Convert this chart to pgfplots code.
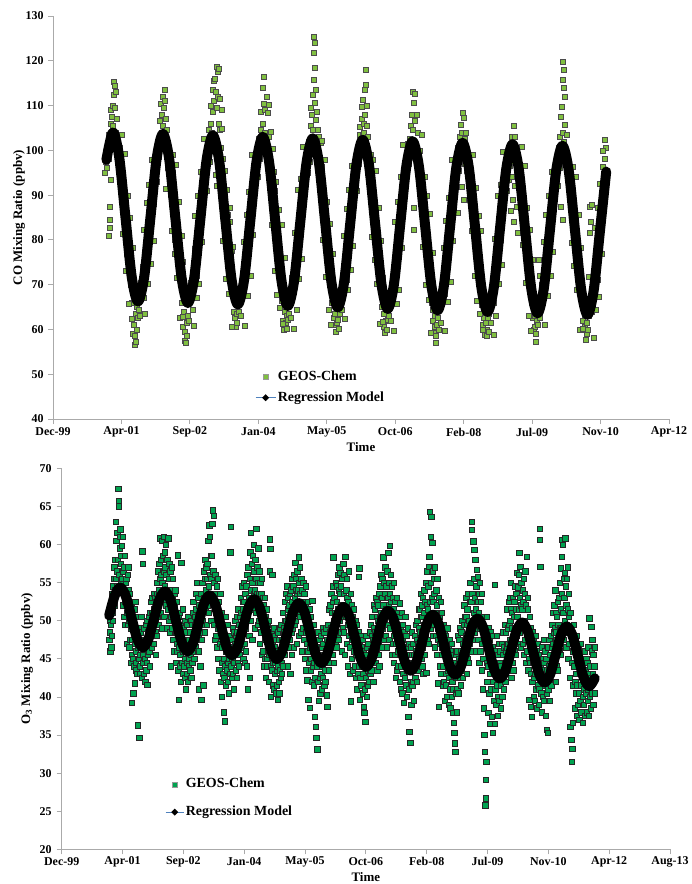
\documentclass[border=0pt]{standalone}
\usepackage{pgfplots}
\pgfplotsset{compat=1.18}
\usepackage{fontspec}
\setmainfont{Liberation Serif}
\definecolor{cofill}{RGB}{128,192,64}
\definecolor{ozfill}{RGB}{0,163,80}
\definecolor{axgray}{RGB}{170,170,170}
\definecolor{legblue}{RGB}{79,129,189}
\pgfplotsset{
  myaxis/.style={
    scale only axis,
    clip marker paths=true,
    axis x line*=bottom, axis y line*=left,
    axis line style={axgray, line width=0.8bp},
    tick style={axgray, line width=0.8bp},
    tick align=outside,
    major tick length=5bp,
    /pgf/number format/assume math mode=true,
    tick label style={font=\fontsize{12}{12}\selectfont\bfseries},
    label style={font=\fontsize{13}{13}\selectfont\bfseries},
    legend style={draw=none, fill=none, inner sep=0pt, outer sep=0pt,
      font=\fontsize{14}{14}\selectfont\bfseries,
      nodes={inner sep=1.5bp, text height=10bp, text depth=3bp}},
    legend cell align=left,
  },
  regline/.style={black, line width=10bp, smooth, line join=round, line cap=round},
}
\begin{document}
\begin{tikzpicture}
\useasboundingbox (0,0) rectangle (692bp,-884bp);
% ---------------- Top: CO ----------------
\begin{axis}[myaxis, at={(53bp,-419bp)}, anchor=south west,
  width=616bp, height=403bp,
  xmin=0, xmax=4500, ymin=40, ymax=130,
  xtick={0,500,...,4500},
  xticklabels={Dec-99,Apr-01,Sep-02,Jan-04,May-05,Oct-06,Feb-08,Jul-09,Nov-10,Apr-12},
  ytick={40,50,...,130},
  xticklabel style={anchor=center, yshift=-8bp},
  yticklabel style={anchor=east, xshift=-1bp},
  xlabel={Time}, ylabel={CO Mixing Ratio (ppbv)},
  xlabel style={at={(axis description cs:0.5,-0.0695)}, anchor=center},
  ylabel style={at={(axis description cs:-0.0552,0.5)}, anchor=center},
  legend style={at={(axis description cs:0.328,0.079)}, anchor=west, row sep=5bp},
]
\addplot[only marks, mark=square*, mark size=2.5bp,
  mark options={fill=cofill, draw=black!70, line width=0.6bp},
  legend image code/.code={\draw[mark=square*, mark size=2.6bp, mark options={fill=cofill, draw=black!40, line width=0.4bp}] plot coordinates {(10bp,0bp)};}]
coordinates {
(380,95.0)(385,97.5)(390,99.5)(395,96.0)(400,101.0)(405,98.0)(408,103.5)(411,81.0)(413,84.5)(415,82.6)(417,87.5)(419,93.4)(422,106.0)(425,109.0)(428,103.0)(432,107.5)(436,110.0)(440,105.5)(444,112.5)(447,115.2)(450,114.5)(453,109.5)(456,113.0)(460,104.0)(465,107.0)(470,101.0)(478,96.0)(488,100.5)(498,91.0)(508,88.0)(518,91.5)(528,82.0)(538,77.0)(548,81.5)(558,72.5)(568,70.0)(578,66.0)(585,59.0)(590,61.0)(596,56.5)(600,58.5)(603,63.5)(607,57.2)(610,65.0)(614,60.0)(618,62.5)(622,68.5)(626,64.5)(634,63.0)(643,70.5)(653,74.0)(663,67.0)(673,76.5)(683,80.5)(693,75.5)(703,86.0)(713,82.0)(723,90.5)(733,96.5)(738,88.0)
(748,97.0)(758,93.0)(765,102.0)(773,98.5)(779,106.5)(785,103.5)(790,110.5)(795,108.0)(800,105.5)(804,112.0)(808,109.5)(812,101.0)(816,113.5)(819,111.0)(822,107.0)(826,91.5)(830,104.5)(835,96.0)(843,99.5)(853,93.5)(863,90.0)(873,95.0)(883,86.0)(893,80.0)(903,84.0)(913,77.0)(923,73.0)(933,70.5)(940,66.0)(945,75.0)(950,60.5)(955,64.0)(960,57.5)(965,59.5)(968,66.0)(972,57.0)(976,61.5)(980,58.5)(984,63.0)(988,69.0)(993,62.0)(999,67.5)(1008,70.5)(1018,64.5)(1028,73.5)(1038,78.0)(1048,72.0)(1058,83.5)(1068,79.5)(1078,88.0)(1088,86.0)(1098,94.5)(1103,89.5)
(1113,96.0)(1123,91.0)(1130,101.0)(1138,104.5)(1144,97.5)(1150,106.0)(1156,110.0)(1160,104.0)(1164,113.5)(1168,108.5)(1172,115.5)(1176,111.0)(1180,103.5)(1184,116.0)(1188,94.5)(1191,113.0)(1194,118.6)(1197,109.5)(1200,92.0)(1203,117.5)(1206,112.0)(1210,106.0)(1214,118.2)(1218,104.5)(1222,111.5)(1228,100.5)(1234,109.0)(1238,98.0)(1248,91.0)(1258,86.0)(1268,83.0)(1278,85.5)(1288,79.0)(1295,84.0)(1298,70.0)(1305,77.5)(1308,68.5)(1318,64.0)(1326,62.5)(1333,60.6)(1340,63.5)(1346,61.5)(1350,68.0)(1356,64.0)(1364,67.5)(1373,63.0)(1383,72.0)(1393,68.5)(1403,76.5)(1413,80.0)(1423,75.0)(1433,85.5)(1443,82.0)(1453,90.5)(1463,88.0)(1468,93.5)
(1478,95.5)(1488,99.5)(1495,94.0)(1503,102.5)(1509,98.0)(1515,104.5)(1521,108.5)(1525,100.5)(1529,113.9)(1533,106.0)(1537,110.5)(1541,116.4)(1545,104.0)(1549,109.0)(1555,101.5)(1560,111.9)(1565,99.0)(1570,108.3)(1575,103.0)(1580,110.1)(1585,95.0)(1590,104.1)(1595,92.0)(1603,88.0)(1610,95.2)(1613,85.5)(1618,91.0)(1623,83.0)(1633,80.0)(1643,76.5)(1653,74.0)(1663,70.0)(1673,66.5)(1680,62.0)(1683,66.0)(1688,59.9)(1691,64.0)(1695,75.9)(1698,61.5)(1705,63.0)(1710,60.2)(1713,68.0)(1717,62.1)(1721,63.5)(1729,67.0)(1738,62.5)(1748,71.5)(1758,73.5)(1768,70.5)(1778,79.5)(1788,76.0)(1798,84.5)(1808,87.5)(1818,84.0)(1828,93.5)(1833,89.0)
(1843,93.0)(1853,99.0)(1860,95.0)(1868,102.0)(1874,97.5)(1880,105.5)(1885,109.5)(1889,101.0)(1893,108.0)(1896,112.5)(1899,104.5)(1902,115.7)(1905,121.7)(1907,125.3)(1909,124.0)(1911,118.4)(1914,110.6)(1917,106.8)(1920,113.5)(1924,102.0)(1928,108.5)(1933,98.0)(1938,104.5)(1944,103.0)(1948,94.0)(1955,101.6)(1958,91.5)(1965,96.3)(1968,88.0)(1978,86.0)(1988,81.0)(1998,79.0)(2008,77.5)(2018,72.0)(2028,70.5)(2038,66.0)(2048,68.5)(2054,62.5)(2058,63.5)(2063,61.0)(2067,59.5)(2070,65.0)(2075,61.5)(2080,62.1)(2084,67.5)(2088,60.2)(2094,63.5)(2103,67.5)(2113,64.5)(2123,71.5)(2133,75.0)(2143,71.0)(2153,80.5)(2163,84.5)(2173,82.0)(2183,89.5)(2193,87.0)(2198,93.5)
(2208,96.5)(2218,91.0)(2225,100.0)(2233,97.0)(2239,103.5)(2244,105.2)(2249,99.0)(2253,107.0)(2257,109.7)(2261,103.5)(2265,111.3)(2269,106.0)(2273,104.0)(2277,113.5)(2281,108.0)(2284,114.6)(2287,117.9)(2290,105.5)(2294,110.0)(2298,95.0)(2302,103.0)(2308,97.0)(2313,92.5)(2318,99.0)(2323,90.0)(2333,87.5)(2343,85.5)(2353,81.0)(2363,79.5)(2373,75.0)(2383,74.0)(2393,69.5)(2403,65.0)(2410,71.5)(2413,63.5)(2418,60.5)(2421,66.0)(2426,59.2)(2430,62.0)(2435,64.5)(2440,60.0)(2443,62.1)(2448,67.0)(2451,63.0)(2459,66.5)(2468,62.0)(2478,70.0)(2488,73.5)(2498,69.0)(2508,78.0)(2518,76.0)(2528,83.5)(2538,87.0)(2548,83.5)(2558,92.5)(2563,89.0)
(2573,93.5)(2583,97.5)(2590,101.5)(2598,97.0)(2604,102.5)(2610,99.0)(2615,105.5)(2619,102.0)(2623,108.0)(2627,113.1)(2631,104.5)(2634,87.1)(2636,110.6)(2639,82.2)(2642,106.5)(2646,112.7)(2650,101.0)(2655,108.0)(2660,99.4)(2665,104.0)(2670,93.5)(2678,100.0)(2688,90.0)(2698,87.5)(2708,89.0)(2718,81.0)(2728,79.5)(2738,75.5)(2748,73.0)(2758,72.5)(2768,66.0)(2775,62.0)(2778,64.5)(2783,59.2)(2786,63.0)(2790,60.5)(2794,57.0)(2797,65.5)(2800,58.5)(2804,61.0)(2808,66.0)(2812,62.5)(2816,60.0)(2824,65.5)(2833,61.5)(2843,69.0)(2853,72.0)(2863,68.0)(2873,77.0)(2883,80.5)(2893,78.0)(2903,86.5)(2913,84.0)(2923,91.5)(2928,89.0)
(2938,93.0)(2948,98.0)(2955,86.0)(2960,100.5)(2966,95.5)(2972,103.0)(2977,98.5)(2982,105.7)(2986,91.8)(2989,103.9)(2992,108.3)(2995,100.0)(2998,88.9)(3001,107.2)(3005,102.5)(3010,97.0)(3016,104.0)(3022,95.5)(3030,99.0)(3038,93.5)(3045,89.0)(3053,91.5)(3063,86.5)(3073,84.5)(3083,80.0)(3093,77.0)(3103,78.5)(3113,71.0)(3123,69.5)(3133,65.5)(3140,61.0)(3143,66.5)(3148,62.5)(3151,64.0)(3155,58.8)(3160,61.5)(3163,66.5)(3167,60.0)(3170,58.5)(3174,62.5)(3178,67.0)(3182,59.5)(3186,63.5)(3192,66.0)(3198,61.5)(3208,69.0)(3218,66.0)(3228,73.5)(3238,76.5)(3248,74.0)(3258,82.5)(3268,80.0)(3278,88.5)(3288,91.5)(3293,88.0)
(3303,94.5)(3313,91.0)(3320,98.0)(3328,93.5)(3334,101.0)(3340,96.5)(3345,86.5)(3349,103.0)(3352,94.0)(3356,100.5)(3360,89.0)(3363,105.4)(3366,97.5)(3369,84.0)(3372,103.0)(3376,92.0)(3380,99.0)(3385,87.5)(3390,95.5)(3395,81.6)(3400,93.0)(3408,96.5)(3418,89.5)(3428,86.0)(3438,88.5)(3448,80.5)(3458,78.0)(3468,75.0)(3478,72.5)(3488,70.0)(3498,66.0)(3505,62.5)(3508,67.0)(3513,59.9)(3516,63.0)(3520,60.5)(3524,57.3)(3527,65.5)(3530,59.0)(3534,62.0)(3538,66.5)(3542,61.0)(3546,75.5)(3549,64.0)(3554,72.0)(3558,62.5)(3563,67.0)(3568,70.0)(3578,66.0)(3588,73.0)(3598,72.5)(3608,77.5)(3618,80.0)(3628,78.0)(3638,86.5)(3648,89.0)(3658,92.5)
(3668,93.5)(3678,97.0)(3685,92.0)(3693,100.5)(3699,96.0)(3705,103.0)(3710,87.4)(3713,107.5)(3716,99.0)(3719,109.7)(3721,84.5)(3723,115.7)(3725,104.0)(3727,119.7)(3729,117.9)(3732,113.9)(3735,102.0)(3738,111.9)(3742,105.7)(3746,98.0)(3750,103.5)(3756,96.5)(3763,97.9)(3770,91.5)(3775,95.0)(3783,89.0)(3793,86.5)(3803,83.0)(3813,80.0)(3823,77.5)(3833,78.5)(3843,71.5)(3853,68.5)(3863,66.0)(3870,62.0)(3873,65.5)(3878,59.9)(3882,63.0)(3886,60.5)(3890,57.7)(3894,64.5)(3898,59.0)(3902,61.5)(3906,65.5)(3910,60.0)(3914,71.7)(3917,63.0)(3921,81.6)(3925,87.4)(3928,84.0)(3931,66.5)(3935,87.8)(3938,64.0)(3946,68.5)(3955,72.0)(3963,69.5)(3972,77.8)(3980,71.0)(3988,80.5)(3996,85.5)(4004,84.0)(4012,90.0)(4020,96.3)(4026,93.0)(4030,98.0)(4034,102.3)(4038,100.5)(4040,95.5)
(503,103.4)(513,81.4)(523,99.2)(533,73.0)(543,89.8)(553,65.7)(563,84.9)(573,62.3)(583,78.2)(663,82.2)(673,63.6)(683,88.3)(693,70.2)(703,92.4)(713,74.6)(723,97.8)(733,79.9)
(868,82.1)(878,99.1)(888,76.9)(898,96.7)(908,71.5)(918,88.4)(928,62.6)(938,81.0)(948,62.9)(1028,60.9)(1038,85.3)(1048,67.0)(1058,89.9)(1068,70.1)(1078,95.3)(1088,79.5)(1098,102.6)
(1233,104.7)(1243,79.7)(1253,95.5)(1263,71.3)(1273,91.1)(1283,68.0)(1293,87.2)(1303,60.6)(1313,78.5)(1393,79.5)(1403,60.9)(1413,85.6)(1423,67.5)(1433,90.7)(1443,71.9)(1453,99.1)(1463,81.2)
(1598,83.4)(1608,100.4)(1618,73.2)(1628,93.0)(1638,67.8)(1648,86.7)(1658,64.9)(1668,83.3)(1678,61.2)(1758,60.2)(1768,81.6)(1778,64.3)(1788,91.2)(1798,71.4)(1808,93.6)(1818,75.8)(1828,100.9)
(1963,102.1)(1973,80.1)(1983,97.9)(1993,71.7)(2003,88.5)(2013,64.4)(2023,83.6)(2033,61.0)(2043,76.9)(2123,80.9)(2133,62.3)(2143,87.0)(2153,68.9)(2163,91.1)(2173,73.3)(2183,96.5)(2193,78.6)
(2328,80.8)(2338,97.8)(2348,75.6)(2358,95.4)(2368,70.2)(2378,87.1)(2388,61.3)(2398,79.7)(2408,61.6)(2488,59.6)(2498,84.0)(2508,65.7)(2518,88.6)(2528,68.8)(2538,94.0)(2548,78.2)(2558,101.3)
(2693,103.4)(2703,78.4)(2713,94.2)(2723,70.0)(2733,89.8)(2743,66.7)(2753,85.9)(2763,59.3)(2773,77.2)(2853,78.2)(2863,59.6)(2873,84.3)(2883,66.2)(2893,89.4)(2903,70.6)(2913,97.8)(2923,79.9)
(3058,82.1)(3068,99.1)(3078,71.9)(3088,91.7)(3098,66.5)(3108,85.4)(3118,63.6)(3128,82.0)(3138,59.9)(3218,58.9)(3228,80.3)(3238,63.0)(3248,89.9)(3258,70.1)(3268,92.3)(3278,74.5)(3288,99.6)
(3423,100.8)(3433,78.8)(3443,96.6)(3453,70.4)(3463,87.2)(3473,63.1)(3483,82.3)(3493,59.7)(3503,75.6)(3583,79.6)(3593,61.0)(3603,85.7)(3613,67.6)(3623,89.8)(3633,72.0)(3643,95.2)(3653,77.3)
(3788,79.4)(3798,96.4)(3808,74.2)(3818,94.0)(3828,68.8)(3838,85.7)(3848,59.9)(3858,78.3)(3868,60.2)(3948,58.2)(3958,82.6)(3968,64.3)(3978,87.2)(3988,67.4)(3998,92.6)(4008,76.8)(4018,99.9)
};
\addlegendentry{GEOS-Chem}
\addplot[regline,
  legend image code/.code={\path[draw=legblue, line width=1.2bp, line cap=butt] (0bp,0bp) -- (20bp,0bp); \path[fill=black, draw=none] (10bp,3.5bp) -- (13.5bp,0bp) -- (10bp,-3.5bp) -- (6.5bp,0bp) -- cycle;}]
coordinates {
(390,97.9)(438.0,104.00)(483.6,98.45)(529.2,85.12)(574.8,71.79)(620.4,66.24)(666.1,71.71)(711.7,84.95)(757.3,98.20)(802.9,103.67)(848.5,98.12)(894.1,84.79)(939.7,71.46)(985.3,65.91)(1030.9,71.37)(1076.5,84.62)(1122.2,97.87)(1167.8,103.34)(1213.4,97.79)(1259.0,84.46)(1304.6,71.13)(1350.2,65.58)(1395.8,71.04)(1441.4,84.29)(1487.0,97.54)(1532.6,103.01)(1578.3,97.46)(1623.9,84.13)(1669.5,70.80)(1715.1,65.25)(1760.7,70.72)(1806.3,83.96)(1851.9,97.21)(1897.5,102.68)(1943.1,97.13)(1988.7,83.80)(2034.4,70.47)(2080.0,64.92)(2125.6,70.39)(2171.2,83.63)(2216.8,96.88)(2262.4,102.35)(2308.0,96.80)(2353.6,83.47)(2399.2,70.14)(2444.8,64.59)(2490.5,70.06)(2536.1,83.30)(2581.7,96.55)(2627.3,102.02)(2672.9,96.47)(2718.5,83.14)(2764.1,69.81)(2809.7,64.26)(2855.3,69.73)(2900.9,82.98)(2946.6,96.22)(2992.2,101.69)(3037.8,96.14)(3083.4,82.81)(3129.0,69.48)(3174.6,63.93)(3220.2,69.40)(3265.8,82.65)(3311.4,95.89)(3357.0,101.36)(3402.7,95.81)(3448.3,82.48)(3493.9,69.15)(3539.5,63.60)(3585.1,69.07)(3630.7,82.32)(3676.3,95.56)(3721.9,101.03)(3767.5,95.48)(3813.1,82.15)(3858.8,68.82)(3904.4,63.27)(3950.0,68.74)(3995.6,81.99)(4041.2,95.24)
};
\addlegendentry{Regression Model}
\end{axis}
% ---------------- Bottom: O3 ----------------
\begin{axis}[myaxis, at={(61.7bp,-849.3bp)}, anchor=south west,
  width=608.3bp, height=381bp,
  xmin=0, xmax=5000, ymin=20, ymax=70,
  xtick={0,500,...,5000},
  xticklabels={Dec-99,Apr-01,Sep-02,Jan-04,May-05,Oct-06,Feb-08,Jul-09,Nov-10,Apr-12,Aug-13},
  ytick={20,25,...,70},
  xticklabel style={anchor=center, yshift=-7.4bp},
  yticklabel style={anchor=east, xshift=-1.7bp},
  xlabel={Time}, ylabel={O\textsubscript{3} Mixing Ratio (ppbv)},
  xlabel style={at={(axis description cs:0.5,-0.0727)}, anchor=center},
  ylabel style={at={(axis description cs:-0.057,0.5)}, anchor=center},
  legend style={at={(axis description cs:0.170,0.134)}, anchor=west, row sep=11.7bp},
]
\addplot[only marks, mark=square*, mark size=2.7bp,
  mark options={fill=ozfill, draw=black!85, line width=0.6bp},
  legend image code/.code={\draw[mark=square*, mark size=2.6bp, mark options={fill=ozfill, draw=black!40, line width=0.4bp}] plot coordinates {(9bp,0bp)};}]
coordinates {
(392,47.5)(395,48.5)(398,46.0)(401,50.0)(404,49.5)(407,46.5)(410,48.0)(413,52.5)(416,53.5)(419,50.0)(422,51.0)(425,54.5)(428,55.5)(431,57.0)(434,54.0)(437,52.0)(440,58.0)(443,55.5)(446,63.0)(449,60.5)(452,56.5)(455,54.5)(458,61.5)(461,58.0)(464,67.3)(467,65.7)(470,65.0)(473,56.0)(476,59.5)(479,61.0)(482,62.0)(485,55.0)(488,57.5)(491,58.5)(494,59.8)(497,55.5)(500,52.0)(503,61.0)(506,56.5)(509,53.5)(512,50.5)(515,57.0)(518,58.5)(521,52.5)(524,49.5)(527,55.0)(530,55.5)(533,51.0)(536,47.0)(539,53.5)(542,56.0)(545,49.5)(548,57.0)(551,54.0)(554,46.5)(557,50.0)(560,53.5)(563,47.5)(566,44.5)(569,49.0)(572,52.0)(575,45.5)(578,39.2)(581,47.5)(584,45.0)(587,50.5)(590,40.5)(593,44.0)(596,51.5)(599,47.0)(602,41.8)(605,52.5)(608,46.0)(611,44.5)(614,43.5)(617,48.0)(620,50.5)(623,43.0)(626,36.3)(629,46.5)(632,45.0)(635,49.0)(638,34.6)(641,45.5)(644,44.0)(647,43.0)(650,48.5)(653,50.5)(656,42.5)(659,47.5)(662,59.1)(665,57.5)(668,45.5)(671,44.5)(674,43.0)(677,49.0)(680,47.5)(683,45.0)(686,42.0)(689,47.5)(692,49.5)(695,43.5)(698,44.5)(701,50.0)(704,41.6)(707,45.5)(710,46.0)(713,48.5)(716,50.5)(719,46.0)(722,44.0)(725,51.0)(728,47.0)(731,49.0)(734,52.5)(737,47.0)(740,46.5)(743,53.0)(746,51.0)(749,49.5)(752,48.0)(755,51.5)(758,53.5)
(759,47.0)(762,51.5)(765,53.0)(768,48.5)(771,45.5)(774,50.0)(777,52.5)(780,55.0)(783,48.0)(786,53.5)(789,56.5)(792,50.5)(795,49.5)(798,54.0)(801,57.5)(804,53.0)(807,60.8)(810,55.5)(813,51.0)(816,58.0)(819,56.0)(822,60.5)(825,49.0)(828,55.0)(831,58.5)(834,52.5)(837,61.0)(840,56.5)(843,50.5)(846,54.5)(849,59.0)(852,57.0)(855,52.0)(858,60.0)(861,56.0)(864,49.0)(867,58.0)(870,54.0)(873,51.5)(876,60.8)(879,55.5)(882,50.0)(885,57.5)(888,48.5)(891,53.0)(894,56.5)(897,44.0)(900,50.5)(903,57.0)(906,54.0)(909,49.0)(912,53.0)(915,55.5)(918,47.5)(921,50.5)(924,53.5)(927,46.0)(930,52.0)(933,54.0)(936,48.5)(939,44.5)(942,51.0)(945,52.5)(948,46.0)(951,47.0)(954,58.6)(957,43.5)(960,50.5)(963,39.6)(966,46.5)(969,51.0)(972,44.0)(975,45.5)(978,49.5)(981,42.0)(984,57.6)(987,48.5)(990,44.5)(993,51.5)(996,46.0)(999,43.0)(1002,49.0)(1005,47.5)(1008,44.0)(1011,50.0)(1014,42.5)(1017,45.0)(1020,41.0)(1023,48.5)(1026,44.5)(1029,43.0)(1032,49.5)(1035,46.5)(1038,42.0)(1041,50.5)(1044,45.0)(1047,44.0)(1050,47.5)(1053,48.5)(1056,43.5)(1059,45.5)(1062,50.0)(1065,42.5)(1068,47.0)(1071,49.5)(1074,44.5)(1077,46.0)(1080,51.0)(1083,52.5)(1086,48.0)(1089,45.0)(1092,49.5)(1095,50.5)(1098,46.5)(1101,47.5)(1104,53.5)(1107,51.5)(1110,49.0)(1113,55.0)(1116,47.5)(1119,50.5)(1122,53.0)(1125,48.0)
(1126,46.0)(1129,41.0)(1132,52.0)(1135,48.5)(1138,44.0)(1141,50.5)(1144,53.5)(1147,39.6)(1150,47.5)(1153,52.0)(1156,55.0)(1159,49.5)(1162,50.0)(1165,41.5)(1168,56.5)(1171,53.0)(1174,48.5)(1177,55.5)(1180,58.0)(1183,51.5)(1186,54.0)(1189,57.0)(1192,49.5)(1195,55.5)(1198,57.5)(1201,52.0)(1204,60.5)(1207,54.5)(1210,51.0)(1213,62.5)(1216,56.0)(1219,61.0)(1222,53.0)(1225,58.5)(1228,55.5)(1231,50.0)(1234,58.5)(1237,62.7)(1240,64.5)(1243,52.5)(1246,56.5)(1249,63.8)(1252,49.5)(1255,55.0)(1258,53.5)(1261,47.5)(1264,56.0)(1267,51.0)(1270,48.0)(1273,54.5)(1276,52.0)(1279,46.5)(1282,55.5)(1285,49.0)(1288,45.0)(1291,52.5)(1294,50.0)(1297,43.5)(1300,47.0)(1303,53.5)(1306,42.0)(1309,48.5)(1312,51.0)(1315,44.5)(1318,40.0)(1321,46.5)(1324,49.5)(1327,43.0)(1330,45.0)(1333,38.0)(1336,42.5)(1339,36.8)(1342,48.0)(1345,44.0)(1348,41.5)(1351,50.5)(1354,46.0)(1357,43.5)(1360,49.5)(1363,42.0)(1366,44.5)(1369,47.5)(1372,40.5)(1375,45.0)(1378,48.0)(1381,43.0)(1384,45.5)(1387,59.0)(1390,62.3)(1393,44.0)(1396,47.5)(1399,42.5)(1402,45.0)(1405,49.0)(1408,43.0)(1411,46.5)(1414,48.5)(1417,41.0)(1420,44.5)(1423,47.0)(1426,50.0)(1429,43.5)(1432,45.5)(1435,48.0)(1438,42.5)(1441,50.5)(1444,48.5)(1447,44.5)(1450,51.5)(1453,46.0)(1456,44.0)(1459,49.5)(1462,50.5)(1465,45.5)(1468,47.5)(1471,53.0)(1474,51.0)(1477,46.5)(1480,54.5)(1483,49.0)(1486,47.0)(1489,52.5)(1492,51.5)(1495,55.0)
(1493,45.0)(1496,50.5)(1499,52.5)(1502,47.0)(1505,44.5)(1508,53.5)(1511,49.0)(1514,46.0)(1517,54.5)(1520,51.0)(1523,44.0)(1526,56.0)(1529,50.5)(1532,41.0)(1535,57.0)(1538,53.0)(1541,48.0)(1544,42.5)(1547,55.5)(1550,59.0)(1553,61.5)(1556,50.0)(1559,54.0)(1562,57.5)(1565,47.5)(1568,55.0)(1571,58.5)(1574,51.5)(1577,53.5)(1580,60.0)(1583,56.5)(1586,49.0)(1589,54.0)(1592,58.0)(1595,51.0)(1598,55.5)(1601,62.1)(1604,53.5)(1607,57.0)(1610,49.5)(1613,55.0)(1616,59.5)(1619,50.0)(1622,53.5)(1625,56.5)(1628,47.0)(1631,52.0)(1634,55.0)(1637,48.5)(1640,53.5)(1643,55.5)(1646,45.5)(1649,50.5)(1652,53.0)(1655,46.0)(1658,52.0)(1661,49.5)(1664,44.0)(1667,53.0)(1670,47.5)(1673,45.0)(1676,50.5)(1679,42.5)(1682,48.0)(1685,51.5)(1688,45.0)(1691,44.0)(1694,49.5)(1697,47.0)(1700,42.0)(1703,50.0)(1706,45.5)(1709,60.7)(1712,56.5)(1715,59.4)(1718,44.0)(1721,40.0)(1724,48.5)(1727,43.5)(1730,56.0)(1733,47.0)(1736,41.5)(1739,44.5)(1742,49.0)(1745,41.0)(1748,46.5)(1751,48.0)(1754,43.0)(1757,44.5)(1760,40.5)(1763,47.5)(1766,43.5)(1769,41.5)(1772,46.0)(1775,39.6)(1778,48.5)(1781,44.0)(1784,42.0)(1787,47.5)(1790,40.5)(1793,43.5)(1796,49.0)(1799,46.0)(1802,42.5)(1805,49.5)(1808,44.5)(1811,43.0)(1814,47.5)(1817,51.0)(1820,45.5)(1823,44.0)(1826,49.0)(1829,48.5)(1832,52.5)(1835,45.5)(1838,50.0)(1841,53.5)(1844,47.0)(1847,50.0)(1850,54.5)(1853,46.5)(1856,51.5)(1859,53.0)(1862,48.0)
(1860,44.0)(1863,50.5)(1866,52.0)(1869,46.5)(1872,47.5)(1875,53.5)(1878,43.0)(1881,51.0)(1884,54.0)(1887,48.5)(1890,45.5)(1893,52.5)(1896,55.5)(1899,49.0)(1902,51.0)(1905,54.5)(1908,46.5)(1911,56.0)(1914,53.0)(1917,49.5)(1920,57.6)(1923,54.0)(1926,50.0)(1929,55.5)(1932,47.0)(1935,53.5)(1938,56.5)(1941,51.0)(1944,54.0)(1947,48.0)(1950,58.3)(1953,55.0)(1956,50.5)(1959,57.0)(1962,53.5)(1965,48.5)(1968,55.5)(1971,51.5)(1974,46.0)(1977,54.0)(1980,52.5)(1983,49.0)(1986,55.0)(1989,47.5)(1992,50.5)(1995,53.5)(1998,45.0)(2001,52.0)(2004,48.5)(2007,54.5)(2010,43.5)(2013,51.0)(2016,47.0)(2019,42.2)(2022,52.5)(2025,46.0)(2028,39.6)(2031,49.5)(2034,44.5)(2037,51.5)(2040,38.6)(2043,46.5)(2046,50.5)(2049,43.5)(2052,45.0)(2055,48.5)(2058,42.0)(2061,52.6)(2064,46.5)(2067,44.0)(2070,49.5)(2073,41.5)(2076,44.5)(2079,47.0)(2082,37.4)(2085,42.5)(2088,47.5)(2091,36.1)(2094,34.6)(2097,44.0)(2100,33.1)(2103,46.5)(2106,42.0)(2109,48.5)(2112,44.5)(2115,39.5)(2118,47.5)(2121,42.5)(2124,40.5)(2127,45.5)(2130,48.0)(2133,43.0)(2136,41.0)(2139,46.5)(2142,44.0)(2145,49.0)(2148,42.5)(2151,47.0)(2154,45.5)(2157,41.5)(2160,48.5)(2163,43.5)(2166,42.0)(2169,46.0)(2172,49.0)(2175,44.5)(2178,40.2)(2181,47.5)(2184,38.7)(2187,45.0)(2190,49.5)(2193,43.5)(2196,46.0)(2199,51.5)(2202,44.5)(2205,48.5)(2208,52.0)(2211,46.5)(2214,49.0)(2217,53.5)(2220,45.5)(2223,51.0)(2226,54.5)(2229,48.0)
(2227,52.5)(2230,45.5)(2233,58.3)(2236,50.0)(2239,44.5)(2242,53.0)(2245,51.0)(2248,47.0)(2251,55.0)(2254,49.5)(2257,46.5)(2260,54.5)(2263,52.5)(2266,48.0)(2269,56.0)(2272,51.5)(2275,47.5)(2278,54.0)(2281,57.0)(2284,50.0)(2287,53.5)(2290,56.3)(2293,48.5)(2296,54.5)(2299,52.0)(2302,46.0)(2305,55.5)(2308,50.5)(2311,49.0)(2314,57.5)(2317,53.5)(2320,48.5)(2323,56.0)(2326,52.0)(2329,45.5)(2332,58.4)(2335,50.5)(2338,54.0)(2341,47.0)(2344,55.5)(2347,53.0)(2350,49.5)(2353,44.0)(2356,52.5)(2359,56.5)(2362,48.0)(2365,50.5)(2368,43.0)(2371,46.5)(2374,53.5)(2377,39.4)(2380,48.5)(2383,52.0)(2386,45.0)(2389,47.5)(2392,50.5)(2395,43.5)(2398,49.0)(2401,51.5)(2404,46.0)(2407,44.0)(2410,49.5)(2413,50.0)(2416,42.5)(2419,45.5)(2422,48.0)(2425,41.0)(2428,49.5)(2431,46.5)(2434,43.0)(2437,48.5)(2440,55.8)(2443,44.0)(2446,56.9)(2449,39.6)(2452,47.0)(2455,42.5)(2458,45.0)(2461,48.0)(2464,41.5)(2467,44.0)(2470,46.5)(2473,40.5)(2476,47.5)(2479,43.0)(2482,38.7)(2485,46.0)(2488,37.9)(2491,41.0)(2494,36.7)(2497,45.5)(2500,42.5)(2503,48.0)(2506,44.0)(2509,40.0)(2512,46.5)(2515,43.5)(2518,41.5)(2521,47.0)(2524,44.5)(2527,42.0)(2530,48.5)(2533,45.0)(2536,43.0)(2539,49.5)(2542,46.0)(2545,43.5)(2548,48.0)(2551,50.5)(2554,45.0)(2557,47.5)(2560,42.0)(2563,49.0)(2566,52.0)(2569,45.5)(2572,48.5)(2575,51.5)(2578,44.5)(2581,48.0)(2584,53.0)(2587,46.0)(2590,50.5)(2593,52.5)(2596,45.5)
(2594,43.5)(2597,50.0)(2600,52.0)(2603,45.5)(2606,47.0)(2609,53.5)(2612,44.0)(2615,50.5)(2618,54.5)(2621,47.5)(2624,51.0)(2627,56.0)(2630,46.5)(2633,53.0)(2636,55.5)(2639,49.0)(2642,58.3)(2645,52.0)(2648,47.5)(2651,55.0)(2654,53.5)(2657,50.0)(2660,57.0)(2663,48.0)(2666,51.5)(2669,54.5)(2672,46.5)(2675,56.5)(2678,53.0)(2681,49.5)(2684,58.9)(2687,52.0)(2690,55.0)(2693,47.5)(2696,59.8)(2699,53.5)(2702,49.0)(2705,56.0)(2708,52.5)(2711,45.5)(2714,54.5)(2717,50.0)(2720,47.0)(2723,53.0)(2726,51.5)(2729,44.5)(2732,55.0)(2735,48.0)(2738,45.5)(2741,52.5)(2744,50.0)(2747,42.5)(2750,47.0)(2753,53.0)(2756,43.5)(2759,49.5)(2762,51.0)(2765,46.0)(2768,44.0)(2771,49.0)(2774,50.5)(2777,42.0)(2780,52.3)(2783,45.5)(2786,49.2)(2789,41.0)(2792,44.0)(2795,51.0)(2798,40.5)(2801,47.5)(2804,49.5)(2807,43.0)(2810,39.2)(2813,46.0)(2816,48.5)(2819,42.5)(2822,44.0)(2825,50.5)(2828,41.5)(2831,46.5)(2834,48.0)(2837,40.0)(2840,43.5)(2843,49.0)(2846,45.5)(2849,37.4)(2852,41.0)(2855,47.0)(2858,35.4)(2861,44.0)(2864,34.0)(2867,46.5)(2870,42.0)(2873,39.0)(2876,45.5)(2879,48.5)(2882,41.5)(2885,44.5)(2888,47.0)(2891,42.0)(2894,39.5)(2897,45.5)(2900,48.0)(2903,43.5)(2906,42.5)(2909,46.0)(2912,49.5)(2915,44.0)(2918,42.0)(2921,47.5)(2924,50.0)(2927,45.5)(2930,47.0)(2933,51.5)(2936,43.5)(2939,49.0)(2942,51.5)(2945,46.5)(2948,48.5)(2951,53.5)(2954,50.5)(2957,45.0)(2960,52.0)(2963,48.5)
(2961,50.5)(2964,44.0)(2967,53.0)(2970,46.5)(2973,43.0)(2976,51.0)(2979,49.5)(2982,54.0)(2985,45.5)(2988,52.5)(2991,55.0)(2994,48.0)(2997,43.2)(3000,52.0)(3003,56.5)(3006,47.5)(3009,51.5)(3012,54.5)(3015,47.0)(3018,57.1)(3021,58.4)(3024,52.5)(3027,64.3)(3030,49.0)(3033,61.0)(3036,55.0)(3039,63.6)(3042,53.0)(3045,60.2)(3048,48.0)(3051,56.5)(3054,52.5)(3057,49.5)(3060,55.5)(3063,53.5)(3066,46.5)(3069,57.0)(3072,51.0)(3075,48.0)(3078,54.0)(3081,45.5)(3084,52.0)(3087,55.5)(3090,49.0)(3093,41.8)(3096,47.5)(3099,38.7)(3102,53.0)(3105,50.5)(3108,44.0)(3111,47.0)(3114,52.5)(3117,43.0)(3120,49.5)(3123,51.0)(3126,45.5)(3129,46.5)(3132,41.5)(3135,49.5)(3138,44.0)(3141,42.0)(3144,48.5)(3147,45.5)(3150,39.5)(3153,48.0)(3156,43.0)(3159,41.5)(3162,46.5)(3165,44.5)(3168,49.0)(3171,40.0)(3174,43.5)(3177,46.5)(3180,39.0)(3183,42.5)(3186,47.5)(3189,45.0)(3192,41.0)(3195,38.5)(3198,46.0)(3201,43.5)(3204,40.0)(3207,47.0)(3210,42.0)(3213,37.9)(3216,45.5)(3219,41.0)(3222,36.6)(3225,44.5)(3228,35.3)(3231,33.9)(3234,32.8)(3237,40.5)(3240,45.5)(3243,42.5)(3246,38.0)(3249,46.0)(3252,41.0)(3255,44.0)(3258,48.0)(3261,40.5)(3264,45.0)(3267,47.5)(3270,42.5)(3273,44.0)(3276,49.0)(3279,41.5)(3282,46.0)(3285,48.5)(3288,43.5)(3291,45.5)(3294,50.0)(3297,42.5)(3300,47.0)(3303,49.5)(3306,44.5)(3309,52.0)(3312,47.5)(3315,45.0)(3318,50.5)(3321,48.0)(3324,53.0)(3327,50.5)(3330,45.5)
(3328,43.0)(3331,49.5)(3334,51.5)(3337,45.0)(3340,47.5)(3343,53.5)(3346,44.5)(3349,50.0)(3352,52.5)(3355,47.0)(3358,55.0)(3361,49.5)(3364,46.0)(3367,52.5)(3370,63.0)(3373,61.9)(3376,53.5)(3379,47.5)(3382,60.4)(3385,51.0)(3388,55.5)(3391,59.3)(3394,48.5)(3397,53.0)(3400,58.0)(3403,51.5)(3406,46.0)(3409,54.5)(3412,56.7)(3415,49.0)(3418,52.5)(3421,55.8)(3424,47.5)(3427,53.5)(3430,51.0)(3433,44.5)(3436,55.0)(3439,49.0)(3442,46.0)(3445,52.5)(3448,50.0)(3451,43.5)(3454,53.5)(3457,47.0)(3460,41.0)(3463,50.5)(3466,45.0)(3469,38.5)(3472,35.0)(3475,48.0)(3478,32.8)(3481,25.8)(3484,26.7)(3487,29.1)(3490,31.5)(3493,44.5)(3496,50.5)(3499,42.0)(3502,46.5)(3505,37.9)(3508,44.0)(3511,49.0)(3514,40.5)(3517,47.5)(3520,36.5)(3523,43.0)(3526,48.5)(3529,41.0)(3532,44.5)(3535,37.4)(3538,46.5)(3541,35.3)(3544,42.0)(3547,48.0)(3550,39.5)(3553,45.5)(3556,43.0)(3559,36.5)(3562,54.7)(3565,41.0)(3568,46.0)(3571,39.0)(3574,44.5)(3577,48.0)(3580,41.5)(3583,37.5)(3586,45.5)(3589,40.0)(3592,43.0)(3595,47.0)(3598,39.5)(3601,44.5)(3604,46.0)(3607,41.5)(3610,38.5)(3613,44.0)(3616,47.0)(3619,42.5)(3622,40.0)(3625,45.5)(3628,48.5)(3631,43.0)(3634,41.0)(3637,46.5)(3640,44.5)(3643,49.5)(3646,42.0)(3649,46.0)(3652,48.5)(3655,44.0)(3658,51.5)(3661,46.5)(3664,43.5)(3667,49.0)(3670,47.0)(3673,52.5)(3676,44.5)(3679,49.5)(3682,53.0)(3685,47.5)(3688,50.0)(3691,55.0)(3694,45.5)(3697,51.5)
(3695,42.5)(3698,49.0)(3701,51.0)(3704,44.5)(3707,47.5)(3710,53.0)(3713,43.5)(3716,50.5)(3719,52.5)(3722,46.0)(3725,49.0)(3728,54.5)(3731,45.5)(3734,51.5)(3737,53.5)(3740,48.0)(3743,56.3)(3746,50.5)(3749,47.0)(3752,54.4)(3755,51.5)(3758,56.0)(3761,58.9)(3764,48.5)(3767,53.0)(3770,57.1)(3773,46.5)(3776,52.0)(3779,55.0)(3782,49.5)(3785,51.5)(3788,54.0)(3791,47.0)(3794,52.5)(3797,55.5)(3800,45.5)(3803,50.0)(3806,53.5)(3809,47.5)(3812,56.5)(3815,52.0)(3818,44.5)(3821,58.4)(3824,49.0)(3827,46.0)(3830,51.5)(3833,53.0)(3836,43.5)(3839,48.5)(3842,45.0)(3845,39.6)(3848,50.5)(3851,44.5)(3854,38.7)(3857,49.0)(3860,43.0)(3863,37.4)(3866,46.5)(3869,42.0)(3872,48.5)(3875,44.5)(3878,40.0)(3881,47.5)(3884,42.5)(3887,39.5)(3890,45.0)(3893,43.0)(3896,48.0)(3899,41.0)(3902,46.0)(3905,38.5)(3908,44.0)(3911,47.0)(3914,41.5)(3917,43.5)(3920,39.0)(3923,45.5)(3926,41.0)(3929,62.1)(3932,60.6)(3935,57.1)(3938,44.0)(3941,40.5)(3944,46.5)(3947,38.0)(3950,43.5)(3953,45.0)(3956,40.0)(3959,42.5)(3962,47.5)(3965,39.5)(3968,44.5)(3971,41.5)(3974,46.0)(3977,37.5)(3980,43.0)(3983,45.0)(3986,40.5)(3989,35.7)(3992,43.5)(3995,35.3)(3998,46.5)(4001,41.0)(4004,44.0)(4007,47.5)(4010,42.0)(4013,39.5)(4016,45.5)(4019,48.0)(4022,43.0)(4025,41.5)(4028,46.5)(4031,49.5)(4034,44.5)(4037,47.0)(4040,51.0)(4043,43.5)(4046,48.5)(4049,52.0)(4052,46.0)(4055,49.0)(4058,54.0)(4061,47.5)(4064,51.0)
(4062,42.0)(4065,48.5)(4068,50.5)(4071,44.0)(4074,47.0)(4077,52.5)(4080,43.5)(4083,49.5)(4086,53.0)(4089,46.0)(4092,49.0)(4095,55.0)(4098,45.5)(4101,51.5)(4104,56.9)(4107,49.0)(4110,53.5)(4113,58.4)(4116,60.6)(4119,60.0)(4122,51.0)(4125,55.5)(4128,47.5)(4131,53.0)(4134,56.3)(4137,50.0)(4140,60.8)(4143,54.5)(4146,46.5)(4149,52.0)(4152,55.5)(4155,48.5)(4158,51.5)(4161,57.0)(4164,45.0)(4167,50.5)(4170,53.5)(4173,47.0)(4176,42.5)(4179,51.0)(4182,36.1)(4185,48.0)(4188,34.4)(4191,44.5)(4194,31.5)(4197,33.2)(4200,36.6)(4203,46.0)(4206,41.5)(4209,49.5)(4212,44.0)(4215,38.5)(4218,47.5)(4221,42.0)(4224,40.5)(4227,45.5)(4230,43.0)(4233,37.5)(4236,48.0)(4239,41.5)(4242,39.0)(4245,44.5)(4248,46.5)(4251,40.5)(4254,37.0)(4257,43.0)(4260,45.5)(4263,39.5)(4266,41.5)(4269,47.0)(4272,38.0)(4275,43.5)(4278,45.0)(4281,40.0)(4284,36.6)(4287,42.5)(4290,44.5)(4293,39.0)(4296,41.0)(4299,46.0)(4302,37.5)(4305,43.5)(4308,40.5)(4311,45.0)(4314,38.0)(4317,42.5)(4320,44.5)(4323,39.5)(4326,41.0)(4329,46.5)(4332,37.5)(4335,43.0)(4338,50.3)(4341,40.0)(4344,44.0)(4347,38.5)(4350,42.5)(4353,49.2)(4356,46.0)(4359,40.5)(4362,47.5)(4365,43.0)(4368,39.0)(4371,45.5)(4374,42.0)(4377,44.0)(4380,40.5)(4383,46.5)
};
\addlegendentry{GEOS-Chem}
\addplot[regline,
  legend image code/.code={\path[draw=legblue, line width=1.2bp, line cap=butt] (0bp,0bp) -- (18bp,0bp); \path[fill=black, draw=none] (9bp,3.5bp) -- (12.5bp,0bp) -- (9bp,-3.5bp) -- (5.5bp,0bp) -- cycle;}]
coordinates {
(390.25,50.68)(436.1,53.30)(482.0,54.35)(527.9,53.18)(573.8,50.42)(619.6,47.67)(665.5,46.50)(711.4,47.54)(757.3,50.17)(803.1,52.79)(849.0,53.84)(894.9,52.67)(940.8,49.91)(986.6,47.16)(1032.5,45.99)(1078.4,47.03)(1124.3,49.66)(1170.1,52.28)(1216.0,53.33)(1261.9,52.16)(1307.8,49.40)(1353.6,46.65)(1399.5,45.48)(1445.4,46.52)(1491.3,49.15)(1537.1,51.77)(1583.0,52.82)(1628.9,51.65)(1674.8,48.89)(1720.6,46.14)(1766.5,44.97)(1812.4,46.01)(1858.3,48.64)(1904.1,51.26)(1950.0,52.31)(1995.9,51.14)(2041.8,48.38)(2087.6,45.63)(2133.5,44.46)(2179.4,45.50)(2225.3,48.13)(2271.1,50.75)(2317.0,51.80)(2362.9,50.63)(2408.8,47.87)(2454.6,45.12)(2500.5,43.95)(2546.4,44.99)(2592.3,47.62)(2638.1,50.24)(2684.0,51.29)(2729.9,50.12)(2775.8,47.36)(2821.6,44.61)(2867.5,43.44)(2913.4,44.48)(2959.3,47.11)(3005.1,49.73)(3051.0,50.78)(3096.9,49.61)(3142.8,46.85)(3188.6,44.10)(3234.5,42.93)(3280.4,43.97)(3326.3,46.60)(3372.1,49.22)(3418.0,50.27)(3463.9,49.10)(3509.8,46.34)(3555.6,43.59)(3601.5,42.42)(3647.4,43.46)(3693.3,46.09)(3739.1,48.71)(3785.0,49.76)(3830.9,48.59)(3876.8,45.83)(3922.6,43.08)(3968.5,41.91)(4014.4,42.95)(4060.3,45.58)(4106.1,48.20)(4152.0,49.25)(4197.9,48.08)(4243.8,45.32)(4289.6,42.57)(4335.5,41.40)(4381.4,42.44)
};
\addlegendentry{Regression Model}
\end{axis}
\end{tikzpicture}
\end{document}
